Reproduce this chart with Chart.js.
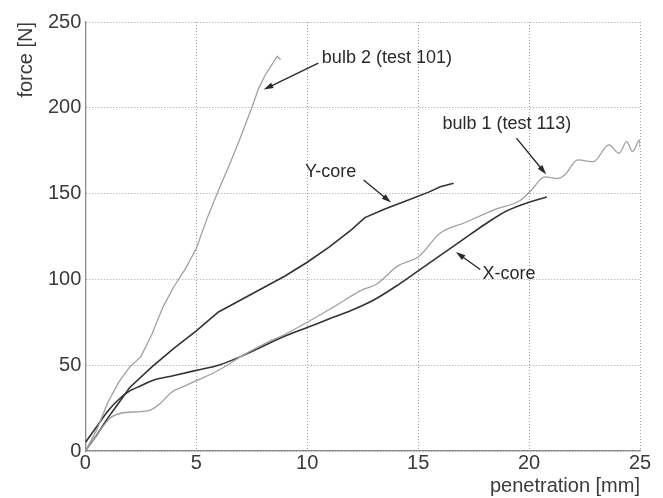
<!DOCTYPE html>
<html>
<head>
<meta charset="utf-8">
<script src="https://cdn.jsdelivr.net/npm/chart.js@4"></script>
<style>
  html, body { margin: 0; padding: 0; background: #fff; }
  #wrap { width: 663px; height: 498px; }
</style>
</head>
<body>
<div id="wrap"><canvas id="c" width="663" height="498"></canvas></div>
<script>
// penetration [mm] / force [N] for each test curve
const bulb2X = [0, 0.5, 1, 1.5, 2, 2.5, 3, 3.5, 4, 4.5, 5, 5.5, 6, 6.5, 7, 7.5, 7.8, 8.1, 8.4, 8.65, 8.8];
const bulb2Y = [0, 12, 28, 40, 49, 55, 68, 84, 96, 106, 118, 136, 152, 167, 183, 200, 211, 219, 225, 230, 228];

const bulb1X = [0, 0.5, 1.1, 1.6, 2.5, 2.95, 3.4, 3.86, 4.5, 5, 5.7, 6.4, 7, 8, 9, 10, 11.2, 12.5, 13.1, 14.1, 15, 16, 17.1, 18.5, 19.6, 20.1, 20.7, 21.3, 21.6, 22.2, 22.9, 23.6, 24.06, 24.4, 24.66, 24.99, 25];
const bulb1Y = [0, 9, 19, 22, 23, 24, 28, 34, 38, 41, 45, 50, 55, 62, 68, 75, 84, 94, 97, 108, 113, 127, 133, 141, 146, 152, 159.8, 158.8, 160.8, 169.6, 168.6, 178.4, 173.5, 180.3, 174.5, 181.3, 177];

const yCoreX = [0, 0.5, 1, 1.5, 2, 3, 4, 5, 6, 7, 8, 9, 10, 11, 12, 12.6, 13.5, 14.5, 15.5, 16, 16.6];
const yCoreY = [0, 9, 19, 28, 37, 49, 60, 70, 81, 88, 95, 102, 110, 119, 129, 136, 141, 146, 151, 154, 156];

const xCoreX = [0, 0.5, 1, 1.5, 2, 2.5, 3, 4, 5, 6, 7, 8, 9, 10, 11, 12, 13, 14, 15, 16, 17, 18, 19, 20, 20.8];
const xCoreY = [5, 14, 23, 30, 35, 38, 41, 44, 47, 50, 55, 61, 67, 72, 77, 82, 88, 96, 105, 114, 123, 132, 140, 145, 148];

const xTicks = [0, 5, 10, 15, 20, 25];
const yTicks = [0, 50, 100, 150, 200, 250];

// callout labels: text anchor and arrow (from -> to), in data units
const callouts = [
  { text: 'bulb 2 (test 101)', tx: 10.66, ty: 229, fromX: 10.5, fromY: 226, toX: 8.04, toY: 210.6 },
  { text: 'bulb 1 (test 113)', tx: 16.1, ty: 190.5, fromX: 19.43, fromY: 182.3, toX: 20.77, toY: 161.2 },
  { text: 'Y-core', tx: 9.9, ty: 162.8, fromX: 12.54, fromY: 157.9, toX: 13.78, toY: 144.8 },
  { text: 'X-core', tx: 17.9, ty: 102.9, fromX: 17.8, fromY: 105.8, toX: 16.7, toY: 115.9 }
];

function pts(xs, ys) { return xs.map((x, i) => ({ x: x, y: ys[i] })); }

const calloutPlugin = {
  id: 'callouts',
  afterDatasetsDraw(chart) {
    const ctx = chart.ctx;
    const sx = chart.scales.x, sy = chart.scales.y;
    ctx.save();
    ctx.font = '18px "Liberation Sans", Arial, sans-serif';
    ctx.fillStyle = '#2a2a2a';
    ctx.textBaseline = 'middle';
    ctx.textAlign = 'left';
    callouts.forEach(c => {
      ctx.fillText(c.text, sx.getPixelForValue(c.tx), sy.getPixelForValue(c.ty));
      const x0 = sx.getPixelForValue(c.fromX), y0 = sy.getPixelForValue(c.fromY);
      const x1 = sx.getPixelForValue(c.toX), y1 = sy.getPixelForValue(c.toY);
      const ang = Math.atan2(y1 - y0, x1 - x0);
      const len = 10, half = 0.3;
      ctx.strokeStyle = '#2a2a2a';
      ctx.lineWidth = 1.4;
      ctx.beginPath();
      ctx.moveTo(x0, y0);
      ctx.lineTo(x1 - Math.cos(ang) * len * 0.8, y1 - Math.sin(ang) * len * 0.8);
      ctx.stroke();
      ctx.beginPath();
      ctx.moveTo(x1, y1);
      ctx.lineTo(x1 - len * Math.cos(ang - half), y1 - len * Math.sin(ang - half));
      ctx.lineTo(x1 - len * Math.cos(ang + half), y1 - len * Math.sin(ang + half));
      ctx.closePath();
      ctx.fill();
    });
    ctx.restore();
  }
};

const family = '"Liberation Sans", Arial, sans-serif';
const tickFont = { family: family, size: 20 };
const titleFont = { family: family, size: 20 };

new Chart(document.getElementById('c'), {
  type: 'line',
  data: {
    datasets: [
      { label: 'bulb 2 (test 101)', data: pts(bulb2X, bulb2Y), borderColor: '#a0a0a0', borderWidth: 1.3 },
      { label: 'bulb 1 (test 113)', data: pts(bulb1X, bulb1Y), borderColor: '#a0a0a0', borderWidth: 1.3, cubicInterpolationMode: 'monotone' },
      { label: 'Y-core', data: pts(yCoreX, yCoreY), borderColor: '#333', borderWidth: 1.6 },
      { label: 'X-core', data: pts(xCoreX, xCoreY), borderColor: '#333', borderWidth: 1.6, cubicInterpolationMode: 'monotone' }
    ]
  },
  options: {
    responsive: false,
    animation: false,
    elements: { point: { radius: 0 }, line: { tension: 0 } },
    layout: { padding: { left: 14, right: 23, top: 22, bottom: 0 } },
    plugins: { legend: { display: false }, tooltip: { enabled: false } },
    scales: {
      x: {
        type: 'linear', min: 0, max: 25,
        afterBuildTicks: s => { s.ticks = xTicks.map(v => ({ value: v })); },
        ticks: { color: '#3a3a3a', font: tickFont, padding: 0, maxRotation: 0 },
        grid: { color: '#a0a0a0', drawTicks: false, lineWidth: 1 },
        border: { display: true, color: '#8a8a8a', width: 1.3, dash: [1, 2] },
        title: { display: true, text: 'penetration [mm]', align: 'end', color: '#3a3a3a', font: titleFont, padding: { top: -1, bottom: 0 } }
      },
      y: {
        type: 'linear', min: 0, max: 250,
        afterBuildTicks: s => { s.ticks = yTicks.map(v => ({ value: v })); },
        ticks: { color: '#3a3a3a', font: tickFont, padding: 4 },
        grid: { color: '#a0a0a0', drawTicks: false, lineWidth: 1 },
        border: { display: true, color: '#8a8a8a', width: 1.3, dash: [1, 2] },
        title: { display: true, text: 'force [N]', align: 'end', color: '#3a3a3a', font: titleFont, padding: { top: 0, bottom: 6 } }
      }
    }
  },
  plugins: [calloutPlugin]
});
</script>
</body>
</html>
